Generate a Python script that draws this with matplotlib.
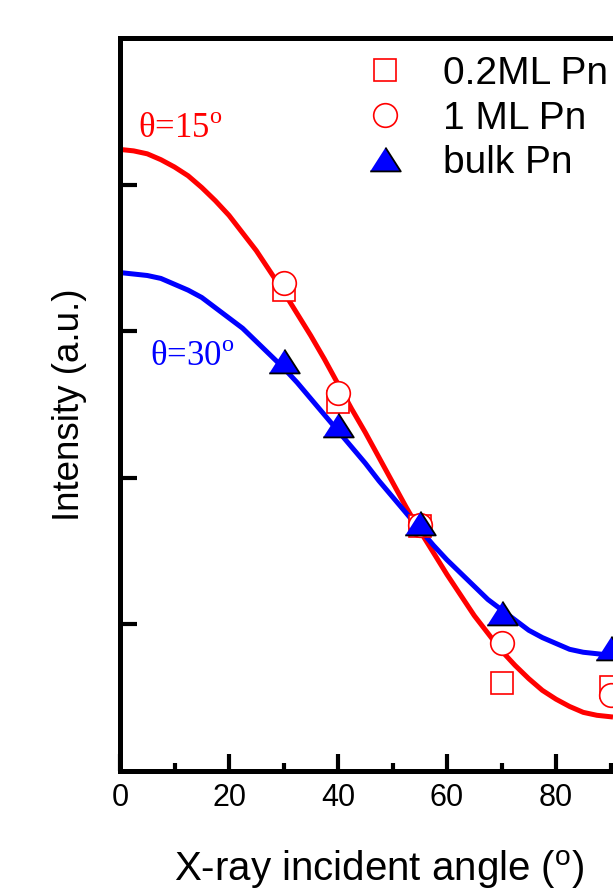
import matplotlib
matplotlib.use('Agg')
import matplotlib.pyplot as plt
from matplotlib.ticker import MultipleLocator, NullFormatter

plt.rcParams['font.family'] = ['Liberation Sans', 'DejaVu Sans']
plt.rcParams['mathtext.fontset'] = 'custom'
plt.rcParams['mathtext.rm'] = 'Liberation Serif'
plt.rcParams['mathtext.sf'] = 'Liberation Sans'

# ---- data ----
angles = [30, 40, 55, 70, 90]
ml02 = [3.28, 2.52, 1.67, 0.60, 0.57]
ml1 = [3.33, 2.58, 1.68, 0.87, 0.52]
bulk = [2.80, 2.36, 1.69, 1.08, 0.84]

curve_x = [0, 2.5, 5, 7.5, 10, 12.5, 15, 17.5, 20, 22.5, 25, 27.5, 30, 32.5,
           35, 37.5, 40, 42.5, 45, 47.5, 50, 52.5, 55, 57.5, 60, 62.5, 65,
           67.5, 70, 72.5, 75, 77.5, 80, 82.5, 85, 87.5, 90]
curve_15 = [4.24, 4.23, 4.21, 4.17, 4.12, 4.06, 3.98, 3.89, 3.79, 3.67, 3.55,
            3.41, 3.27, 3.12, 2.97, 2.81, 2.64, 2.47, 2.31, 2.14, 1.97, 1.80,
            1.64, 1.49, 1.34, 1.20, 1.06, 0.94, 0.82, 0.72, 0.63, 0.55, 0.49,
            0.44, 0.40, 0.38, 0.37]
curve_30 = [3.40, 3.39, 3.38, 3.36, 3.32, 3.28, 3.23, 3.16, 3.09, 3.02, 2.93,
            2.84, 2.75, 2.65, 2.54, 2.43, 2.32, 2.21, 2.10, 1.98, 1.87, 1.76,
            1.65, 1.54, 1.44, 1.35, 1.26, 1.17, 1.10, 1.03, 0.96, 0.91, 0.87,
            0.83, 0.81, 0.80, 0.79]

labels = ['0.2ML Pn', '1 ML Pn', 'bulk Pn']
xticks_major = [0, 20, 40, 60, 80]

RED = '#FF0000'
BLUE = '#0000FF'

fig = plt.figure(figsize=(6.13, 8.91), dpi=100)
ax = fig.add_axes([120 / 613, 120 / 891, 95 * 5.45 / 613, 733 / 891])
ax.set_xlim(0, 95)
ax.set_ylim(0, 5)

ax.plot(curve_x, curve_15, color=RED, lw=3.6, zorder=2, solid_joinstyle='round')
ax.plot(curve_x, curve_30, color=BLUE, lw=3.6, zorder=2, solid_joinstyle='round')

tri = [(-1, -0.78), (1, -0.78), (0, 0.78)]
h1, = ax.plot(angles, ml02, ls='none', marker='s', ms=16, mfc='white', mec=RED, mew=1.2, zorder=3)
h2, = ax.plot(angles, ml1, ls='none', marker='o', ms=17, mfc='white', mec=RED, mew=1.2, zorder=4)
h3, = ax.plot(angles, bulk, ls='none', marker=tri, ms=22, mfc=BLUE, mec='black', mew=1.3, zorder=5)

for s in ax.spines.values():
    s.set_linewidth(3.6)

ax.set_xticks(xticks_major)
ax.xaxis.set_minor_locator(MultipleLocator(10))
ax.set_yticks([1, 2, 3, 4])
ax.yaxis.set_major_formatter(NullFormatter())
ax.tick_params(which='major', direction='in', length=12, width=3, labelsize=22, pad=9)
ax.tick_params(which='minor', direction='in', length=6, width=3)
ax.tick_params(axis='y', which='minor', left=False)

ax.set_xlabel(r'X-ray incident angle ($^{\mathsf{o}}$)', fontsize=29, labelpad=25)
ax.set_ylabel('Intensity (a.u.)', fontsize=26.5, labelpad=15)

ax.text(3.3, 4.32, r'θ=15$^{\mathrm{o}}$', color=RED, fontsize=25,
        family=['Liberation Serif', 'DejaVu Serif'], va='baseline', ha='left')
ax.text(5.5, 2.76, r'θ=30$^{\mathrm{o}}$', color=BLUE, fontsize=25,
        family=['Liberation Serif', 'DejaVu Serif'], va='baseline', ha='left')

fs = 28
fpx = fs * 100 / 72
leg = ax.legend([h1, h2, h3], labels, loc='upper left', frameon=False,
                fontsize=fs, handlelength=1.0, handletextpad=1.0,
                labelspacing=0.22, borderpad=0, borderaxespad=0, numpoints=1,
                bbox_to_anchor=((385 - fpx / 2) / 613, 1 - 56 / 891),
                bbox_transform=fig.transFigure)

fig.savefig('out.png', dpi=100)
